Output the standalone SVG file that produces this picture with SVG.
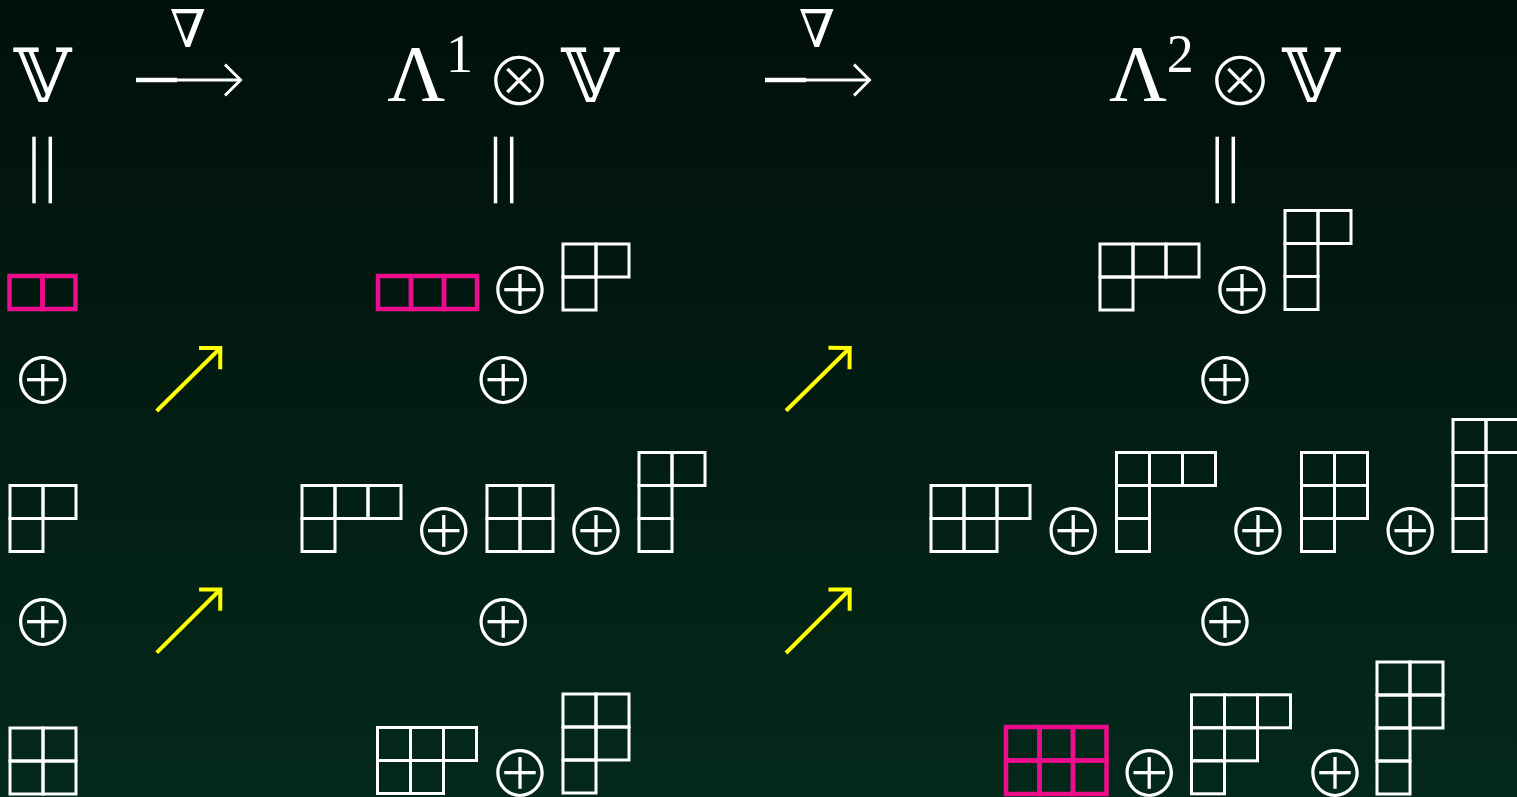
<svg xmlns="http://www.w3.org/2000/svg" width="1517" height="797" viewBox="0 0 1517 797">
<defs>
<linearGradient id="bg" x1="0" y1="0" x2="0" y2="1">
<stop offset="0" stop-color="#010f0a"/>
<stop offset="1" stop-color="#03291a"/>
</linearGradient>
<marker id="yh" markerUnits="userSpaceOnUse" orient="auto" refX="0" refY="0" markerWidth="40" markerHeight="40" viewBox="-30 -20 40 40" overflow="visible">
<polyline points="-15,-15 0,0 -15,15" fill="none" stroke="#ffff00" stroke-width="4"/>
</marker>
<marker id="wh" markerUnits="userSpaceOnUse" orient="auto" refX="0" refY="0" markerWidth="40" markerHeight="40" viewBox="-30 -20 40 40" overflow="visible">
<polyline points="-15.5,-15.5 0,0 -15.5,15.5" fill="none" stroke="#ffffff" stroke-width="3"/>
</marker>
</defs>
<style>
.yt rect{fill:none;stroke:#ffffff;stroke-width:3}
.pk rect{fill:none;stroke:#ec0c8c;stroke-width:4.5}
.op{font-family:"Noto Sans CJK JP","DejaVu Sans",sans-serif;font-size:64px;font-weight:300;fill:#ffffff;text-anchor:middle}
.ot{font-family:"Noto Sans CJK JP","DejaVu Sans",sans-serif;font-size:67px;font-weight:300;fill:#ffffff;text-anchor:middle}
.vv{font-family:"DejaVu Serif","DejaVu Sans",serif;font-size:74px;fill:#ffffff;text-anchor:middle}
.lam{font-family:"Liberation Serif",serif;font-size:80px;fill:#ffffff;text-anchor:middle}
.sup{font-family:"Liberation Serif",serif;font-size:54px;fill:#ffffff;text-anchor:middle}
.nab{font-family:"DejaVu Serif",serif;font-size:52px;fill:#ffffff;text-anchor:middle}
.eq{stroke:#ffffff;stroke-width:3.5}
.ya{stroke:#ffff00;stroke-width:4;marker-end:url(#yh)}
.wa1{stroke:#ffffff;stroke-width:4.7}
.wa2{stroke:#ffffff;stroke-width:3;marker-end:url(#wh)}
</style>
<rect x="0" y="0" width="1517" height="797" fill="url(#bg)"/>

<!-- headers -->
<g id="hdr1">
<text class="vv" x="42.5" y="102">𝕍</text>
<line class="eq" x1="34" y1="136.7" x2="34" y2="203.3"/>
<line class="eq" x1="50.3" y1="136.7" x2="50.3" y2="203.3"/>
</g>
<g id="hdr2">
<text class="lam" x="416.3" y="100.7">Λ</text>
<text class="sup" x="459.5" y="71.7">1</text>
<text class="ot" x="519" y="105.7">⊗</text>
<text class="vv" x="590" y="102">𝕍</text>
<line class="eq" x1="495.5" y1="136.7" x2="495.5" y2="203.3"/>
<line class="eq" x1="511.7" y1="136.7" x2="511.7" y2="203.3"/>
</g>
<g id="hdr3">
<text class="lam" x="1138" y="100.7">Λ</text>
<text class="sup" x="1180.3" y="71.7">2</text>
<text class="ot" x="1240" y="105.7">⊗</text>
<text class="vv" x="1311" y="102">𝕍</text>
<line class="eq" x1="1217.2" y1="136.7" x2="1217.2" y2="203.3"/>
<line class="eq" x1="1233.3" y1="136.7" x2="1233.3" y2="203.3"/>
</g>

<!-- connectors -->
<g id="connectors">
<text class="nab" x="188" y="47">∇</text>
<line class="wa1" x1="136" y1="80" x2="177" y2="80"/>
<line class="wa2" x1="177" y1="80" x2="240.5" y2="80"/>
<text class="nab" x="817" y="47">∇</text>
<line class="wa1" x1="765" y1="80" x2="806" y2="80"/>
<line class="wa2" x1="806" y1="80" x2="869.5" y2="80"/>
<line class="ya" x1="156.7" y1="411" x2="220.3" y2="348"/>
<line class="ya" x1="156.7" y1="652.7" x2="220.3" y2="589.5"/>
<line class="ya" x1="786" y1="410.7" x2="849.7" y2="348"/>
<line class="ya" x1="786" y1="653" x2="849.7" y2="589.5"/>
</g>

<!-- plus signs -->
<g id="sums">
<text class="op" x="42.7" y="403.6">⊕</text>
<text class="op" x="42.7" y="646">⊕</text>
<text class="op" x="520" y="313.6">⊕</text>
<text class="op" x="503.3" y="403.6">⊕</text>
<text class="op" x="443.7" y="555.3">⊕</text>
<text class="op" x="596" y="555.3">⊕</text>
<text class="op" x="503.3" y="646">⊕</text>
<text class="op" x="520" y="796.5">⊕</text>
<text class="op" x="1242" y="313.6">⊕</text>
<text class="op" x="1225" y="403.6">⊕</text>
<text class="op" x="1073.2" y="555.3">⊕</text>
<text class="op" x="1258" y="555.3">⊕</text>
<text class="op" x="1410.3" y="555.3">⊕</text>
<text class="op" x="1225" y="646">⊕</text>
<text class="op" x="1149.3" y="797">⊕</text>
<text class="op" x="1335" y="797">⊕</text>
</g>

<!-- column 1 tableaux -->
<g id="c1t1" class="pk"><rect x="9.5" y="276" width="33" height="33"/><rect x="42.5" y="276" width="33" height="33"/></g>
<g id="c1t2" class="yt"><rect x="10" y="485.5" width="33" height="33"/><rect x="43" y="485.5" width="33" height="33"/><rect x="10" y="518.5" width="33" height="33"/></g>
<g id="c1t3" class="yt"><rect x="10" y="728" width="33" height="33"/><rect x="43" y="728" width="33" height="33"/><rect x="10" y="761" width="33" height="33"/><rect x="43" y="761" width="33" height="33"/></g>

<!-- column 2 tableaux -->
<g id="c2t1" class="pk"><rect x="378" y="276" width="33" height="33"/><rect x="411" y="276" width="33" height="33"/><rect x="444" y="276" width="33" height="33"/></g>
<g id="c2t2" class="yt"><rect x="563" y="244" width="33" height="33"/><rect x="596" y="244" width="33" height="33"/><rect x="563" y="277" width="33" height="33"/></g>
<g id="c2t3" class="yt"><rect x="302" y="485.5" width="33" height="33"/><rect x="335" y="485.5" width="33" height="33"/><rect x="368" y="485.5" width="33" height="33"/><rect x="302" y="518.5" width="33" height="33"/></g>
<g id="c2t4" class="yt"><rect x="487" y="485.5" width="33" height="33"/><rect x="520" y="485.5" width="33" height="33"/><rect x="487" y="518.5" width="33" height="33"/><rect x="520" y="518.5" width="33" height="33"/></g>
<g id="c2t5" class="yt"><rect x="639" y="452.5" width="33" height="33"/><rect x="672" y="452.5" width="33" height="33"/><rect x="639" y="485.5" width="33" height="33"/><rect x="639" y="518.5" width="33" height="33"/></g>
<g id="c2t6" class="yt"><rect x="377.5" y="727.5" width="33" height="33"/><rect x="410.5" y="727.5" width="33" height="33"/><rect x="443.5" y="727.5" width="33" height="33"/><rect x="377.5" y="760.5" width="33" height="33"/><rect x="410.5" y="760.5" width="33" height="33"/></g>
<g id="c2t7" class="yt"><rect x="563" y="694" width="33" height="33"/><rect x="596" y="694" width="33" height="33"/><rect x="563" y="727" width="33" height="33"/><rect x="596" y="727" width="33" height="33"/><rect x="563" y="760" width="33" height="33"/></g>

<!-- column 3 tableaux -->
<g id="c3t1" class="yt"><rect x="1100" y="244" width="33" height="33"/><rect x="1133" y="244" width="33" height="33"/><rect x="1166" y="244" width="33" height="33"/><rect x="1100" y="277" width="33" height="33"/></g>
<g id="c3t2" class="yt"><rect x="1285" y="210.5" width="33" height="33"/><rect x="1318" y="210.5" width="33" height="33"/><rect x="1285" y="243.5" width="33" height="33"/><rect x="1285" y="276.5" width="33" height="33"/></g>
<g id="c3t3" class="yt"><rect x="931" y="485.5" width="33" height="33"/><rect x="964" y="485.5" width="33" height="33"/><rect x="997" y="485.5" width="33" height="33"/><rect x="931" y="518.5" width="33" height="33"/><rect x="964" y="518.5" width="33" height="33"/></g>
<g id="c3t4" class="yt"><rect x="1116.5" y="452.5" width="33" height="33"/><rect x="1149.5" y="452.5" width="33" height="33"/><rect x="1182.5" y="452.5" width="33" height="33"/><rect x="1116.5" y="485.5" width="33" height="33"/><rect x="1116.5" y="518.5" width="33" height="33"/></g>
<g id="c3t5" class="yt"><rect x="1301.5" y="452.5" width="33" height="33"/><rect x="1334.5" y="452.5" width="33" height="33"/><rect x="1301.5" y="485.5" width="33" height="33"/><rect x="1334.5" y="485.5" width="33" height="33"/><rect x="1301.5" y="518.5" width="33" height="33"/></g>
<g id="c3t6" class="yt"><rect x="1453" y="419.5" width="33" height="33"/><rect x="1486" y="419.5" width="33" height="33"/><rect x="1453" y="452.5" width="33" height="33"/><rect x="1453" y="485.5" width="33" height="33"/><rect x="1453" y="518.5" width="33" height="33"/></g>
<g id="c3t7" class="pk"><rect x="1006" y="727" width="33.5" height="33.5"/><rect x="1039.5" y="727" width="33.5" height="33.5"/><rect x="1073" y="727" width="33.5" height="33.5"/><rect x="1006" y="760.5" width="33.5" height="33.5"/><rect x="1039.5" y="760.5" width="33.5" height="33.5"/><rect x="1073" y="760.5" width="33.5" height="33.5"/></g>
<g id="c3t8" class="yt"><rect x="1191.5" y="694.8" width="33" height="33"/><rect x="1224.5" y="694.8" width="33" height="33"/><rect x="1257.5" y="694.8" width="33" height="33"/><rect x="1191.5" y="727.8" width="33" height="33"/><rect x="1224.5" y="727.8" width="33" height="33"/><rect x="1191.5" y="760.8" width="33" height="33"/></g>
<g id="c3t9" class="yt"><rect x="1377" y="662" width="33" height="33"/><rect x="1410" y="662" width="33" height="33"/><rect x="1377" y="695" width="33" height="33"/><rect x="1410" y="695" width="33" height="33"/><rect x="1377" y="728" width="33" height="33"/><rect x="1377" y="761" width="33" height="33"/></g>
</svg>
